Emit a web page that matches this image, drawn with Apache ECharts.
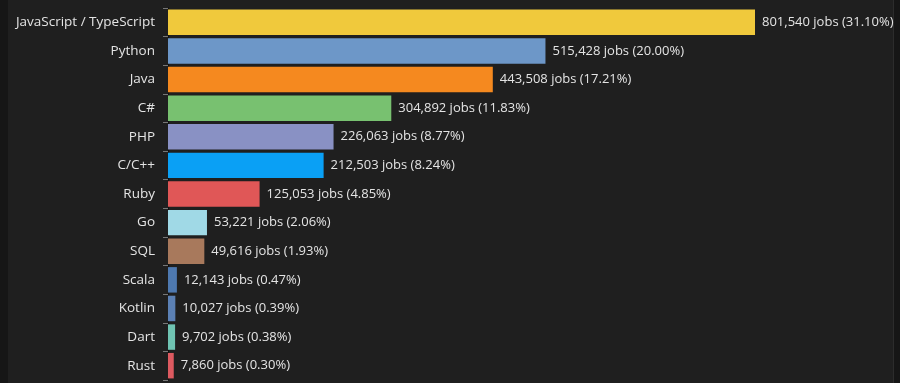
<!DOCTYPE html>
<html>
<head>
<meta charset="utf-8">
<script src="https://cdn.jsdelivr.net/npm/echarts@6/dist/echarts.min.js"></script>
<style>
html,body{margin:0;padding:0;background:#161616;}
#chart{width:900px;height:383px;}
</style>
</head>
<body>
<div id="chart"></div>
<script>
const categories = ["JavaScript / TypeScript","Python","Java","C#","PHP","C/C++","Ruby","Go","SQL","Scala","Kotlin","Dart","Rust"];
const jobs = [801540,515428,443508,304892,226063,212503,125053,53221,49616,12143,10027,9702,7860];
const percents = ["31.10%","20.00%","17.21%","11.83%","8.77%","8.24%","4.85%","2.06%","1.93%","0.47%","0.39%","0.38%","0.30%"];
const barColors = ["#f0c93c","#6d97c8","#f5891f","#78c170","#8991c4","#0aa0f5","#e05757","#a0d9e6","#a8795c","#4e79b0","#5b80b4","#6fc3b2","#dd5a60"];

const FONT = "Open Sans";
const chart = echarts.init(document.getElementById('chart'));
chart.setOption({
  backgroundColor: '#161616',
  animation: false,
  graphic: [
    {type:'rect', left: 8, top: 0, shape:{width: 885, height: 383}, style:{fill:'#1f1f1f'}, z:-10},
    {type:'rect', left: 893, top: 0, shape:{width: 1, height: 383}, style:{fill:'#2c2c2c'}, z:-9}
  ],
  grid: {left: 168, right: 145, top: 8, bottom: 3, containLabel: false},
  xAxis: {
    type: 'value', min: 0, max: 'dataMax', show: false
  },
  yAxis: {
    type: 'category', inverse: true, data: categories,
    axisLine: {show: true, lineStyle: {color: '#0e0e0e', width: 1}},
    axisTick: {show: true, length: 5, lineStyle: {color: '#777'}},
    axisLabel: {color: '#e4e4e4', fontFamily: FONT, fontSize: 13.5, margin: 13}
  },
  series: [{
    type: 'bar',
    data: jobs.map((v, i) => ({value: v, itemStyle: {color: barColors[i]}})),
    barCategoryGap: '11%',
    label: {
      show: true, position: 'right', distance: 7,
      color: '#e4e4e4', fontFamily: FONT, fontSize: 13,
      formatter: p => p.value.toLocaleString('en-US') + ' jobs (' + percents[p.dataIndex] + ')'
    }
  }]
});
</script>
</body>
</html>
